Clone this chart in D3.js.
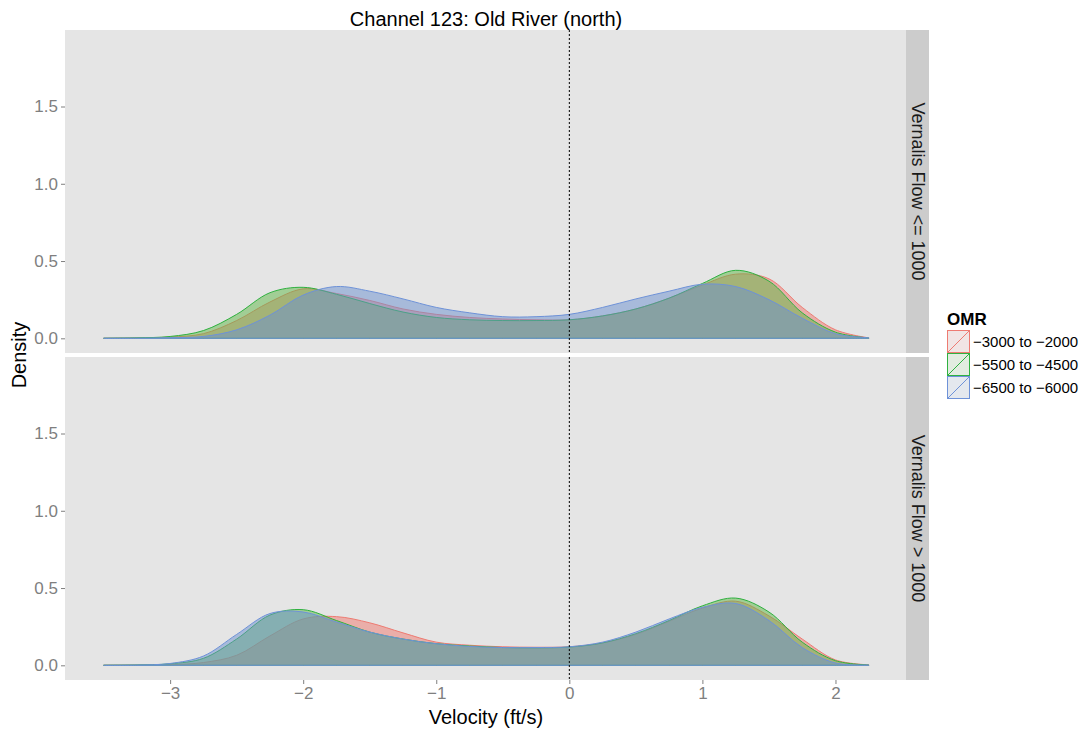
<!DOCTYPE html>
<html><head><meta charset="utf-8">
<script src="https://cdn.jsdelivr.net/npm/d3@7"></script>
<style>body{margin:0;background:#fff;} text{font-family:"Liberation Sans",Arial,Helvetica,sans-serif;}</style>
</head><body><svg id="chart" width="1086" height="730"></svg>
<script>
// ---- data ----
const velocity = [-3.5,-3.25,-3.0,-2.75,-2.5,-2.25,-2.0,-1.75,-1.5,-1.25,-1.0,-0.75,-0.5,-0.25,0,0.25,0.5,0.75,1.0,1.25,1.5,1.75,2.0,2.25];
const facets = ["Vernalis Flow <= 1000", "Vernalis Flow > 1000"];
const groups = ["\u22123000 to \u22122000", "\u22125500 to \u22124500", "\u22126500 to \u22126000"];
// top facet (Vernalis Flow <= 1000)
const lowRed   = [0,0.002,0.008,0.03,0.115,0.235,0.32,0.29,0.245,0.19,0.155,0.135,0.125,0.12,0.12,0.145,0.19,0.26,0.345,0.415,0.385,0.2,0.055,0.003];
const lowGreen = [0,0.003,0.012,0.05,0.155,0.295,0.33,0.285,0.225,0.17,0.135,0.12,0.115,0.115,0.12,0.145,0.19,0.26,0.355,0.44,0.37,0.165,0.04,0.002];
const lowBlue  = [0,0.001,0.004,0.012,0.055,0.15,0.28,0.335,0.305,0.255,0.2,0.165,0.14,0.14,0.155,0.2,0.255,0.305,0.35,0.335,0.25,0.13,0.03,0.004];
// bottom facet (Vernalis Flow > 1000)
const highRed   = [0,0.001,0.004,0.018,0.065,0.19,0.3,0.315,0.275,0.21,0.15,0.13,0.12,0.117,0.12,0.145,0.2,0.285,0.37,0.415,0.32,0.17,0.035,0.003];
const highGreen = [0,0.002,0.01,0.045,0.17,0.325,0.36,0.29,0.215,0.17,0.14,0.125,0.115,0.113,0.118,0.145,0.205,0.29,0.385,0.435,0.345,0.15,0.03,0.002];
const highBlue  = [0,0.002,0.012,0.06,0.2,0.335,0.345,0.28,0.215,0.17,0.14,0.122,0.115,0.115,0.12,0.15,0.215,0.3,0.375,0.4,0.29,0.115,0.015,0.002];
const xTicks = [-3,-2,-1,0,1,2];
const yTicks = [0,0.5,1.0,1.5];
const lineColors = ["#EE7B72","#2FB140","#6E92D8"];
const fillColors = ["#F0786E","#5DB846","#6A8FCF"];

const panelSeries = [[lowRed, lowGreen, lowBlue],[highRed, highGreen, highBlue]];

// ---- layout ----
const svg = d3.select("#chart");
const left = 65, right = 906, panelH = 323, gap = 4, top0 = 30;
const stripW = 23;
const x = d3.scaleLinear().domain([-3.79, 2.53]).range([left, right]);
const fmtX = d => d < 0 ? "\u2212" + Math.abs(d) : String(d);
const FONT = '"Liberation Sans",Arial,sans-serif';

svg.append("text").attr("x", 486).attr("y", 26).attr("text-anchor","middle")
  .attr("font-size", 20).attr("fill","#000").text("Channel 123: Old River (north)");

facets.forEach((f, i) => {
  const top = top0 + i * (panelH + gap);
  const y = d3.scaleLinear().domain([-0.095, 1.995]).range([top + panelH, top]);
  const g = svg.append("g");
  g.append("rect").attr("x", left).attr("y", top).attr("width", right - left).attr("height", panelH).attr("fill", "#E5E5E5");
  // strip
  g.append("rect").attr("x", right).attr("y", top).attr("width", stripW).attr("height", panelH).attr("fill", "#CCCCCC");
  g.append("text").attr("transform", `translate(${right + stripW/2},${top + panelH/2}) rotate(90)`)
    .attr("text-anchor","middle").attr("dominant-baseline","central").attr("font-size", 18).attr("fill","#1a1a1a").text(f);

  const area = d3.area().x(d => x(d[0])).y0(y(0)).y1(d => y(d[1])).curve(d3.curveCatmullRom.alpha(0.5));
  panelSeries[i].forEach((vals, k) => {
    const pts = velocity.map((v, j) => [v, vals[j]]);
    g.append("path").attr("d", area(pts)).attr("fill", fillColors[k]).attr("fill-opacity", 0.5)
      .attr("stroke", lineColors[k]).attr("stroke-width", 1);
  });
  // dotted zero line
  g.append("line").attr("x1", x(0)).attr("x2", x(0)).attr("y1", top).attr("y2", top + panelH)
    .attr("stroke","#000").attr("stroke-width",1).attr("stroke-dasharray","2,2");
  // y axis
  const ya = d3.axisLeft(y).tickValues(yTicks).tickFormat(d3.format(".1f")).tickSize(4).tickPadding(3);
  const yg = g.append("g").attr("transform", `translate(${left},0)`).call(ya);
  yg.select(".domain").remove();
  yg.selectAll("line").attr("stroke","#7f7f7f");
  yg.selectAll("text").attr("fill","#7f7f7f").attr("font-size",17).attr("font-family",FONT);
  if (i === 1) {
    const xa = d3.axisBottom(x).tickValues(xTicks).tickFormat(fmtX).tickSize(4).tickPadding(3);
    const xg = g.append("g").attr("transform", `translate(0,${top + panelH})`).call(xa);
    xg.select(".domain").remove();
    xg.selectAll("line").attr("stroke","#7f7f7f");
    xg.selectAll("text").attr("fill","#7f7f7f").attr("font-size",17).attr("font-family",FONT);
  }
});

svg.append("text").attr("x", 486).attr("y", 724).attr("text-anchor","middle").attr("font-size",20).attr("fill","#000").text("Velocity (ft/s)");
svg.append("text").attr("transform","translate(19,355) rotate(-90)").attr("text-anchor","middle").attr("dominant-baseline","central")
  .attr("font-size",20).attr("fill","#000").text("Density");

// legend
const lg = svg.append("g");
lg.append("text").attr("x", 947).attr("y", 325).attr("font-size", 17).attr("font-weight","bold").attr("fill","#000").text("OMR");
groups.forEach((lab, k) => {
  const ky = 330 + k * 23, kx = 947, kw = 23, kh = 23;
  lg.append("rect").attr("x", kx).attr("y", ky).attr("width", kw).attr("height", kh).attr("fill", "#F2F2F2");
  lg.append("rect").attr("x", kx + 0.5).attr("y", ky + 0.5).attr("width", kw - 1).attr("height", kh - 1)
    .attr("fill", fillColors[k]).attr("fill-opacity", 0.1).attr("stroke", lineColors[k]).attr("stroke-width", 1);
  lg.append("line").attr("x1", kx + 1).attr("y1", ky + kh - 1).attr("x2", kx + kw - 1).attr("y2", ky + 1)
    .attr("stroke", lineColors[k]).attr("stroke-width", 1);
  lg.append("text").attr("x", kx + kw + 3).attr("y", ky + kh/2).attr("dominant-baseline","central")
    .attr("font-size", 15).attr("fill","#000").text(lab);
});
</script></body></html>
